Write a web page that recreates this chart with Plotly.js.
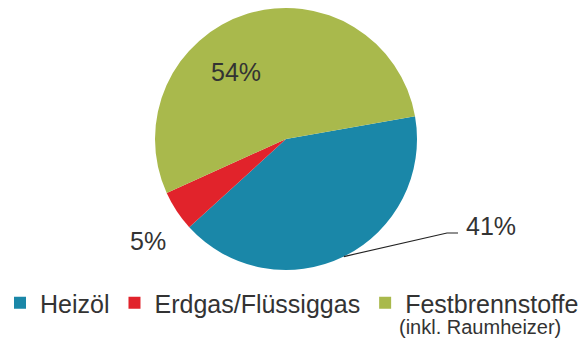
<!DOCTYPE html>
<html>
<head>
<meta charset="utf-8">
<script src="https://cdn.plot.ly/plotly-3.0.1.min.js"></script>
<style>html,body{margin:0;padding:0;background:#fff;}#chart{width:584px;height:340px;}</style>
</head>
<body>
<div id="chart"></div>
<script>
const categories = ['Heizöl', 'Erdgas/Flüssiggas', 'Festbrennstoffe'];
const values = [41, 5, 54];
const colors = ['#1a87a8', '#e1232b', '#a9b94c'];
const legendNote = '(inkl. Raumheizer)';

const W = 584, H = 340;
const cx = 286, cy = 139, R = 131;   // pie centre / radius in px
const rotation = 80;                  // clockwise from 12 o'clock

const total = values.reduce((a, b) => a + b, 0);
const pct = values.map(v => Math.round(v / total * 100) + '%');

const startMath = 90 - rotation;
let acc = 0;
const mids = values.map(v => {
  const m = startMath - 360 * (acc + v / 2) / total;
  acc += v;
  return m;
});
const px = x => x / W, py = y => 1 - y / H;
const pt = (ang, r) => [cx + r * Math.cos(ang * Math.PI / 180), cy - r * Math.sin(ang * Math.PI / 180)];

const labelFont = {family: 'Liberation Sans, Arial, sans-serif', size: 25, color: '#333'};

const edge0 = pt(mids[0], R);
const p54 = [236, 72];
const p5 = [148, 241];
const p41 = [491, 226];

const data = [{
  type: 'pie',
  labels: categories,
  values: values,
  sort: false,
  direction: 'clockwise',
  rotation: rotation,
  marker: {colors: colors, line: {width: 0}},
  textinfo: 'none',
  hoverinfo: 'none',
  domain: {x: [px(cx - R), px(cx + R)], y: [py(cy + R), py(cy - R)]}
}];

const layout = {
  width: W, height: H,
  margin: {l: 0, r: 0, t: 0, b: 0, autoexpand: false},
  paper_bgcolor: '#fff',
  showlegend: true,
  legend: {
    orientation: 'h', xref: 'container', yref: 'container',
    x: -0.008, y: py(280), xanchor: 'left', yanchor: 'top',
    font: {family: 'Liberation Sans, Arial, sans-serif', size: 25, color: '#333'},
    traceorder: 'normal', itemclick: false, bgcolor: 'rgba(0,0,0,0)'
  },
  annotations: [
    {x: px(p54[0]), y: py(p54[1]), xref: 'paper', yref: 'paper', xanchor: 'center', yanchor: 'middle', text: pct[2], showarrow: false, font: labelFont},
    {x: px(p5[0]), y: py(p5[1]), xref: 'paper', yref: 'paper', xanchor: 'center', yanchor: 'middle', text: pct[1], showarrow: false, font: labelFont},
    {x: px(p41[0]), y: py(p41[1]), xref: 'paper', yref: 'paper', xanchor: 'center', yanchor: 'middle', text: pct[0], showarrow: false, font: labelFont},
    {x: px(397), y: py(327), xref: 'paper', yref: 'paper', xanchor: 'left', yanchor: 'middle', text: legendNote, showarrow: false,
     font: {family: 'Liberation Sans, Arial, sans-serif', size: 20, color: '#333'}}
  ],
  shapes: [{
    type: 'path', xref: 'paper', yref: 'paper',
    path: 'M' + px(edge0[0]) + ',' + py(edge0[1]) + ' L' + px(447) + ',' + py(233) + ' L' + px(458) + ',' + py(233),
    line: {color: '#222', width: 1.2}
  }]
};

Plotly.newPlot('chart', data, layout, {staticPlot: true});
</script>
</body>
</html>
